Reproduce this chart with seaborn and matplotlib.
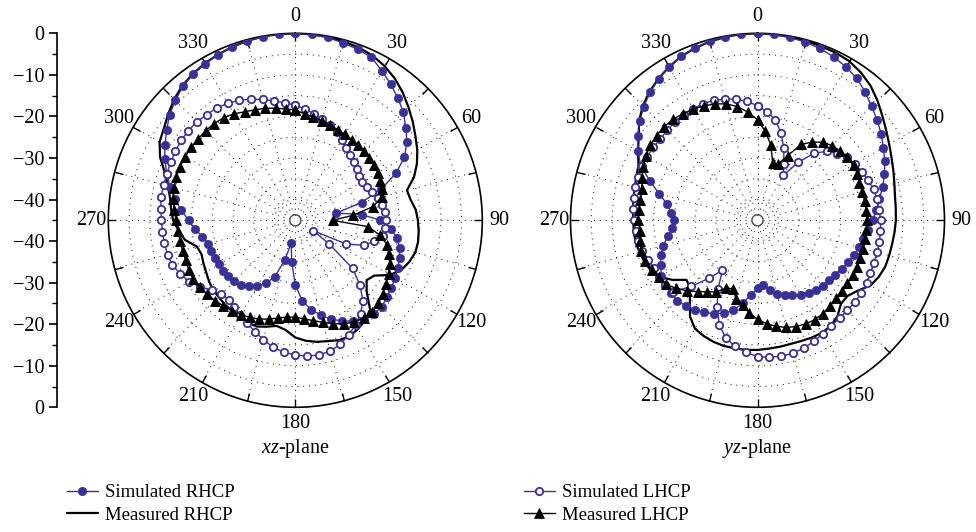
import numpy as np
import pandas as pd
import seaborn as sns
import matplotlib.pyplot as plt

# angles of the samples (deg, clockwise from top)
angles = np.arange(0, 360, 5)

# xz-plane patterns (dB)
xz_sim_rhcp = [0.0, -0.1, -0.3, -0.8, -1.2, -1.7, -3.4, -5.0, -6.6, -8.2, -10.3, -12.2,
               -14.7, -18.3, -23.0, -28.5, -35.0, -29.0, -24.5, -21.8, -20.2, -19.0, -18.3, -17.8,
               -17.2, -16.8, -16.2, -15.6, -15.6, -16.0, -17.0, -18.3, -19.6, -21.4, -23.2, -25.5,
               -29.5, -35.0, -39.4, -35.0, -30.5, -28.3, -26.8, -25.6, -24.7, -24.2, -24.0, -23.9,
               -23.8, -23.7, -23.5, -23.3, -22.3, -20.8, -19.3, -17.5, -15.5, -13.8, -12.1, -10.3,
               -8.8, -7.2, -5.5, -4.2, -2.9, -2.1, -1.5, -1.0, -0.6, -0.3, -0.1, 0.0]
xz_meas_rhcp = [0.0, -0.1, -0.2, -0.4, -0.7, -1.2, -2.1, -3.3, -4.8, -6.5, -8.1, -9.7,
                -11.1, -12.7, -14.6, -17.2, -16.8, -15.9, -15.5, -15.2, -15.0, -15.1, -15.8, -16.8,
                -18.7, -21.8, -22.6, -20.7, -17.0, -15.7, -14.8, -14.2, -14.3, -14.9, -15.3, -15.9,
                -16.8, -18.5, -19.2, -18.5, -17.8, -17.9, -18.1, -18.4, -18.6, -18.9, -19.1, -19.6,
                -20.2, -20.6, -21.0, -20.5, -18.0, -16.8, -15.6, -15.0, -14.4, -13.3, -11.6, -9.1,
                -7.3, -6.4, -5.1, -3.8, -2.7, -2.0, -1.4, -1.0, -0.6, -0.3, -0.1, 0.0]
xz_sim_lhcp = [-17.3, -18.1, -19.0, -19.8, -20.6, -21.5, -22.6, -23.7, -24.4, -25.0, -25.7, -26.3,
               -26.4, -26.0, -25.3, -24.5, -23.7, -23.3, -23.2, -23.3, -23.6, -25.4, -27.4, -31.5,
               -40.0, -35.0, -27.0, -23.0, -19.7, -17.6, -16.0, -14.6, -13.3, -12.4, -12.1, -12.2,
               -12.6, -13.1, -14.0, -15.3, -16.5, -17.7, -18.6, -19.4, -20.1, -19.8, -18.9, -17.0,
               -15.5, -14.5, -13.5, -13.2, -13.0, -12.9, -12.8, -12.5, -12.2, -12.2, -12.1, -11.9,
               -11.7, -11.5, -11.4, -11.5, -11.8, -12.0, -12.5, -13.1, -14.0, -14.9, -15.8, -16.6]
xz_meas_lhcp = [-18.5, -19.3, -19.8, -20.2, -20.6, -20.9, -21.1, -21.3, -21.4, -21.5, -21.7, -21.9,
                -22.1, -22.5, -22.9, -23.5, -26.0, -31.0, -36.0, -27.4, -24.3, -22.1, -21.1, -19.9,
                -19.1, -18.3, -17.5, -16.7, -16.1, -16.3, -16.8, -17.5, -18.5, -19.6, -20.5, -21.2,
                -21.7, -21.6, -21.1, -20.4, -19.7, -19.2, -18.8, -18.5, -18.1, -17.7, -17.3, -16.9,
                -16.6, -16.7, -16.9, -16.9, -16.8, -16.7, -16.3, -15.7, -15.2, -14.8, -14.5, -14.4,
                -14.4, -14.4, -14.5, -14.5, -14.6, -14.9, -15.4, -16.2, -16.7, -17.1, -17.6, -18.1]

# yz-plane patterns (dB)
yz_sim_rhcp = [0.0, -0.1, -0.3, -0.6, -1.0, -1.6, -2.4, -3.3, -4.7, -6.2, -7.4, -8.7,
               -10.0, -11.2, -12.5, -13.8, -15.2, -16.3, -17.3, -18.3, -19.1, -19.8, -20.4, -21.0,
               -21.6, -22.2, -22.5, -22.8, -23.0, -23.6, -24.3, -25.1, -25.9, -26.7, -28.0, -29.4,
               -28.6, -27.0, -24.8, -22.6, -21.2, -20.2, -19.4, -18.7, -18.1, -17.7, -17.7, -17.9,
               -18.3, -19.3, -20.3, -21.5, -23.2, -24.3, -25.0, -24.2, -23.0, -20.5, -17.5, -14.0,
               -11.8, -9.8, -8.0, -6.3, -4.8, -3.5, -2.4, -1.5, -0.8, -0.4, -0.1, 0.0]
yz_meas_rhcp = [0.0, -0.1, -0.2, -0.3, -0.4, -0.5, -0.8, -1.6, -2.7, -4.2, -5.8, -7.2,
                -8.4, -9.4, -10.2, -10.9, -11.4, -11.6, -11.7, -11.9, -12.1, -12.2, -12.3, -12.8,
                -13.6, -15.5, -16.7, -16.6, -15.0, -14.1, -13.8, -13.9, -14.1, -14.2, -14.1, -14.0,
                -13.8, -13.7, -13.7, -13.7, -13.9, -14.3, -14.9, -16.7, -19.7, -22.0, -22.7, -20.0,
                -17.8, -16.6, -16.0, -15.6, -15.2, -15.1, -15.1, -14.9, -14.7, -14.4, -14.0, -13.4,
                -11.8, -10.1, -7.8, -6.0, -4.6, -3.4, -2.4, -1.5, -0.9, -0.5, -0.2, 0.0]
yz_sim_lhcp = [-17.4, -18.8, -20.4, -23.2, -26.5, -30.0, -32.5, -28.0, -24.0, -21.5, -20.0, -18.6,
               -17.9, -17.3, -16.7, -16.1, -15.8, -15.6, -15.4, -15.3, -15.2, -15.2, -15.2, -15.0,
               -14.7, -14.5, -14.4, -14.4, -14.3, -14.0, -13.5, -12.9, -12.3, -11.9, -11.8, -11.9,
               -12.2, -13.1, -14.2, -15.6, -18.2, -22.0, -26.0, -30.3, -26.8, -22.5, -18.3, -17.8,
               -17.7, -17.6, -17.0, -16.3, -15.9, -15.6, -15.3, -14.9, -14.7, -14.5, -14.4, -14.3,
               -14.3, -14.4, -14.5, -14.3, -14.1, -14.0, -14.0, -14.0, -14.3, -14.8, -15.4, -16.3]
yz_meas_lhcp = [-20.8, -23.5, -26.6, -30.8, -30.6, -27.8, -23.9, -22.0, -20.5, -19.6, -19.0, -18.6,
                -18.3, -18.5, -18.9, -18.9, -18.8, -18.7, -18.7, -18.7, -18.7, -18.7, -18.7, -18.6,
                -18.5, -18.6, -18.6, -18.4, -18.0, -17.6, -17.4, -17.5, -17.8, -18.3, -19.1, -20.0,
                -21.2, -22.6, -24.3, -25.3, -27.5, -27.0, -25.1, -24.0, -22.6, -21.0, -19.5, -18.1,
                -17.5, -16.9, -16.3, -16.1, -16.4, -16.6, -16.3, -16.3, -16.4, -16.2, -15.4, -14.6,
                -14.0, -13.5, -13.3, -13.2, -13.3, -13.7, -14.1, -14.6, -15.2, -16.0, -17.2, -18.9]

angle_labels = ['0', '30', '60', '90', '120', '150', '180', '210', '240', '270', '300', '330']
scale_labels = ['0', '\u221210', '\u221220', '\u221230', '\u221240']
series_names = ['Simulated RHCP', 'Measured RHCP', 'Simulated LHCP', 'Measured LHCP']
plane_names = [r'$xz$-plane', r'$yz$-plane']

BLUE = '#3a309a'
FS = 14.5

sns.set_theme(style='white')
plt.rcParams['font.family'] = ['Liberation Serif', 'DejaVu Serif']
plt.rcParams['mathtext.fontset'] = 'custom'
plt.rcParams['mathtext.rm'] = 'Liberation Serif'
plt.rcParams['mathtext.it'] = 'Liberation Serif:italic'
plt.rcParams['text.color'] = 'black'
plt.rcParams['xtick.color'] = 'black'
plt.rcParams['ytick.color'] = 'black'
plt.rcParams['axes.edgecolor'] = 'black'

styles = [
    dict(color=BLUE, linewidth=1.0, marker='o', markersize=6, markerfacecolor=BLUE,
         markeredgecolor=BLUE, markeredgewidth=0.5, zorder=4),
    dict(color='black', linewidth=1.6, zorder=3),
    dict(color=BLUE, linewidth=1.0, marker='o', markersize=5.3, markerfacecolor='white',
         markeredgecolor=BLUE, markeredgewidth=1.3, zorder=5),
    dict(color='black', linewidth=1.0, marker='^', markersize=6.5, markerfacecolor='black',
         markeredgecolor='black', markeredgewidth=0.5, zorder=6),
]


def draw_pattern(ax, vals, name, style):
    df = pd.DataFrame({'theta': np.deg2rad(np.append(angles, 360)),
                       'gain': np.append(vals, vals[0])})
    sns.lineplot(data=df, x='theta', y='gain', ax=ax, sort=False, estimator=None,
                 label=name, legend=False, **style)


fig = plt.figure(figsize=(9.76, 5.32), dpi=100)

planes = [[xz_sim_rhcp, xz_meas_rhcp, xz_sim_lhcp, xz_meas_lhcp],
          [yz_sim_rhcp, yz_meas_rhcp, yz_sim_lhcp, yz_meas_lhcp]]
lefts = [108.3 / 976, 570.5 / 976]
centers = [295.3 / 976, 757.5 / 976]

for i, series in enumerate(planes):
    ax = fig.add_axes([lefts[i], 0.2344, 374 / 976, 0.703], projection='polar')
    ax.set_theta_zero_location('N')
    ax.set_theta_direction(-1)
    for vals, name, st in zip(series, series_names, styles):
        draw_pattern(ax, vals, name, st)
    # small hole in the middle: the inner spine is the little circle at the centre
    ax.set_rorigin(-45)
    ax.set_ylim(-43.7, 0)
    ax.set_xticks(np.deg2rad(np.arange(0, 360, 15)))
    ax.set_xticklabels([angle_labels[k // 2] if k % 2 == 0 else '' for k in range(24)])
    ax.set_yticks([-40, -35, -30, -25, -20, -15, -10, -5])
    ax.set_yticklabels([])
    ax.set_xlabel('')
    ax.set_ylabel('')
    ax.grid(True, color='black', linewidth=0.7, linestyle=(0, (1, 5)))
    ax.tick_params(axis='x', which='major', labelsize=FS, pad=5, direction='in',
                   length=6, width=1, bottom=False, top=True)
    ax.spines['polar'].set_linewidth(1.2)
    ax.spines['polar'].set_color('black')
    ax.spines['inner'].set_linewidth(0.8)
    ax.spines['inner'].set_color('0.3')
    fig.text(centers[i], 1 - 449 / 532, plane_names[i], ha='center', va='center', fontsize=FS)
    if i == 0:
        handles, labels = ax.get_legend_handles_labels()

# linear dB scale on the left
sax = fig.add_axes([56.5 / 976, 0.2344, 0.0001, 0.703])
sax.set_facecolor('none')
sax.set_ylim(-45, 45)
major_pos = [45, 35, 25, 15, 5, -5, -15, -25, -35, -45]
sax.set_yticks(major_pos)
sax.set_yticklabels(scale_labels + scale_labels[::-1])
sax.set_yticks([40, 30, 20, 10, 0, -10, -20, -30, -40], minor=True)
sax.set_xticks([])
for s in ['top', 'right', 'bottom']:
    sax.spines[s].set_visible(False)
sax.spines['left'].set_linewidth(1.2)
sax.spines['left'].set_color('black')
sax.tick_params(axis='y', which='major', left=True, direction='out', length=6, width=1.2,
                labelsize=FS, pad=3)
sax.tick_params(axis='y', which='minor', left=True, direction='out', length=3.5, width=1.0)

fig.legend(handles, labels, ncol=2, loc='upper left', bbox_to_anchor=(67 / 976, 1 - 484 / 532),
           frameon=False, fontsize=13.5, handlelength=1.65, handletextpad=0.4,
           columnspacing=15.4, labelspacing=0.3, borderpad=0, borderaxespad=0)

fig.savefig('out.png', dpi=100)
